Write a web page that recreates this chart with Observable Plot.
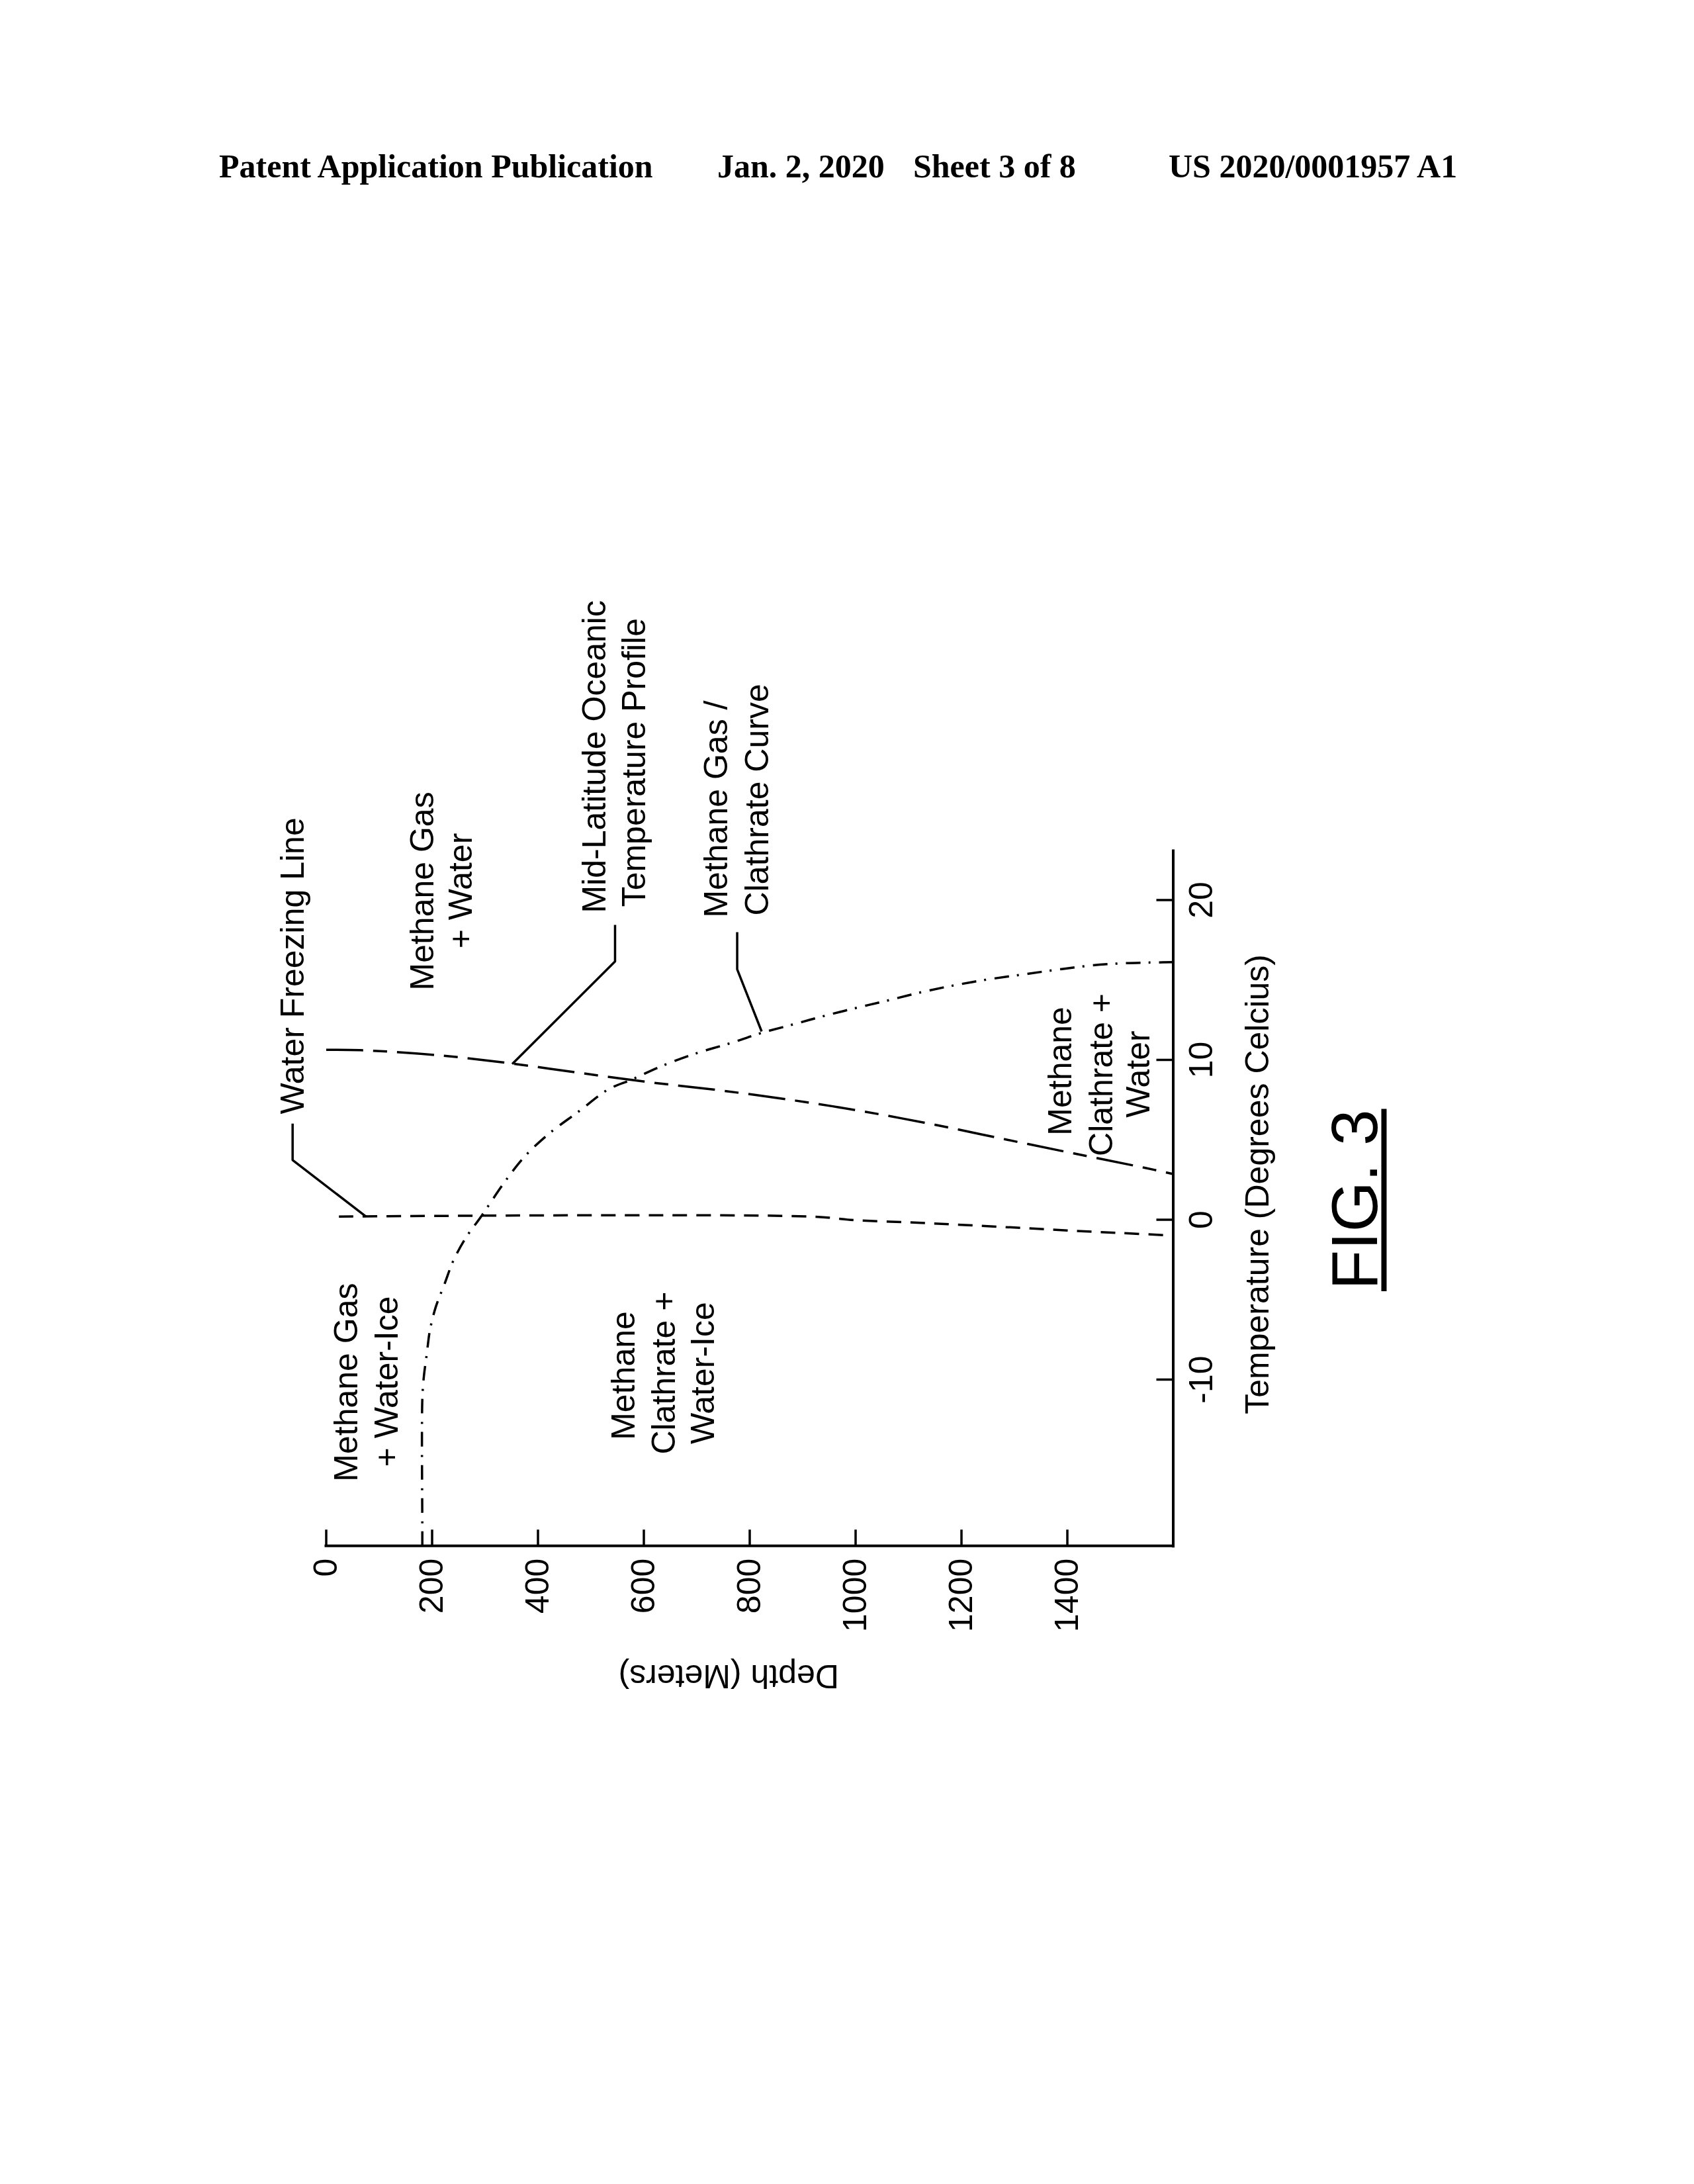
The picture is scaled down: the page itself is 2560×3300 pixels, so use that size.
<!DOCTYPE html>
<html>
<head>
<meta charset="utf-8">
<script src="https://cdn.jsdelivr.net/npm/d3@7"></script>
<script src="https://cdn.jsdelivr.net/npm/@observablehq/plot@0.6"></script>
<style>
  html, body { margin: 0; padding: 0; background: #ffffff; }
  body { width: 2560px; height: 3300px; position: relative; overflow: hidden; }
  #header { position: absolute; left: 0; top: 0; }
  #chart { position: absolute; left: 0; top: 0; width: 1800px; height: 1800px;
           transform-origin: 0 0; transform: translate(360px, 2640px) rotate(-90deg); }
  #chart svg { display: block; max-width: none; }
</style>
</head>
<body>
<svg id="header" width="2560" height="320" xmlns="http://www.w3.org/2000/svg"
     font-family="'Liberation Serif', 'Times New Roman', serif" font-weight="bold" font-size="50" fill="#000">
  <text x="331" y="268">Patent Application Publication</text>
  <text x="1084" y="268">Jan. 2, 2020</text>
  <text x="1380" y="268">Sheet 3 of 8</text>
  <text x="1766" y="268">US 2020/0001957 A1</text>
</svg>
<div id="chart"></div>
<script>
// ---------- data ----------
const tempTicks = [-10, 0, 10, 20];
const depthTicks = [0, 200, 400, 600, 800, 1000, 1200, 1400];

// Water freezing line (short dashes)
const freezeDepth = [24, 915, 1000, 1100, 1200, 1300, 1400, 1500, 1600];
const freezeTemp  = [0.2, 0.2, -0.03, -0.16, -0.32, -0.49, -0.67, -0.83, -0.99];

// Mid-latitude oceanic temperature profile (long dashes)
const profileDepth = [0, 64, 212, 349, 480, 614, 747, 885, 1016, 1150, 1281, 1412, 1546, 1600];
const profileTemp  = [10.63, 10.61, 10.29, 9.78, 9.18, 8.59, 8.08, 7.46, 6.77, 5.94, 5.04, 4.15, 3.25, 2.86];

// Methane gas / clathrate curve (dash-dot)
const clathDepth = [181.5, 181.5, 181.5, 184.4, 190.1, 195.9, 206.9, 223.6, 240.3, 264.3, 291.6, 342.9, 376.4, 421.0,
                    476.8, 532.6, 577.3, 627.5, 694.4, 770.5, 820.6, 882.1, 940.6, 1002.1, 1063.5, 1128.8, 1191.9,
                    1253.1, 1317.4, 1379.9, 1443.0, 1508.1, 1571.4, 1600];
const clathTemp  = [-20.4, -19.26, -11.27, -9.82, -8.36, -6.91, -5.46, -4.01, -2.55, -1.10, 0.16, 2.63, 4.01, 5.39,
                    6.77, 8.15, 8.77, 9.53, 10.36, 11.12, 11.67, 12.22, 12.75, 13.26, 13.74, 14.27, 14.70,
                    15.05, 15.35, 15.64, 15.90, 16.05, 16.10, 16.12];

// Region / curve labels (anchor points in data units)
const labelText  = ["Water Freezing Line", "Methane Gas", "+ Water", "Mid-Latitude Oceanic", "Temperature Profile",
                    "Methane Gas /", "Clathrate Curve", "Methane", "Clathrate +", "Water",
                    "Methane Gas", "+ Water-Ice", "Methane", "Clathrate +", "Water-Ice"];
const labelTemp  = [6.60, 20.56, 20.58, 19.19, 19.57, 18.90, 19.03, 9.30, 9.07, 9.11, -10.17, -10.12, -9.75, -9.59, -9.59];
const labelDepth = [-43.1, 203.1, 275.6, 528.1, 601.9, 757.3, 834.4, 1406.9, 1484.9, 1554.6, 58.5, 135.0, 582.4, 658.9, 733.1];
const labelAlign = ["start", "middle", "middle", "start", "start", "start", "start", "middle", "middle", "middle",
                    "middle", "middle", "middle", "middle", "middle"];

// Leader lines
const leaderSeries = ["freeze", "freeze", "freeze", "profile", "profile", "profile", "clath", "clath", "clath"];
const leaderTemp   = [6.01, 3.73, 0.2, 18.45, 16.16, 9.74, 17.99, 15.67, 11.78];
const leaderDepth  = [-63.5, -63.5, 75, 545.6, 545.6, 351.3, 776.3, 776.3, 822.5];

// Axis titles and figure label
const titleText   = ["Temperature (Degrees Celcius)", "Depth (Meters)"];
const titleTemp   = [2.22, -27.88];
const titleDepth  = [1780, 760.25];
const titleRotate = [0, -90];
const figText  = ["FIG. 3"];
const figTemp  = [1.26];
const figDepth = [1984.4];
const figUnderlineTemp  = [-4.45, 6.96];
const figUnderlineDepth = [1998.1];

// ---------- layout ----------
const W = 1800, H = 1800;
const xDomain = [-20.4, 23.1];
const yDomain = [0, 1600];
const mL = 303.8, mR = 445.6, mT = 132.5, mB = 387.5;
const pxPerT = (W - mL - mR) / (xDomain[1] - xDomain[0]);
const pxPerD = (H - mT - mB) / (yDomain[1] - yDomain[0]);
const tickLen = 25;
const font = "'Liberation Sans', Arial, Helvetica, sans-serif";

const idx = a => d3.range(a.length);
const curveStyle = {stroke: "black", strokeWidth: 3.5, strokeLinecap: "butt", strokeLinejoin: "round", curve: "catmull-rom"};

const chart = Plot.plot({
  width: W, height: H,
  marginLeft: mL, marginRight: mR, marginTop: mT, marginBottom: mB,
  x: {domain: xDomain},
  y: {domain: yDomain, reverse: true},
  style: {fontFamily: font, fontSize: "50px", background: "transparent", color: "black", overflow: "visible"},
  marks: [
    Plot.line(idx(freezeDepth), {x: i => freezeTemp[i], y: i => freezeDepth[i], ...curveStyle, strokeDasharray: "22,14"}),
    Plot.line(idx(profileDepth), {x: i => profileTemp[i], y: i => profileDepth[i], ...curveStyle, strokeDasharray: "56,15,21,15"}),
    Plot.line(idx(clathDepth), {x: i => clathTemp[i], y: i => clathDepth[i], ...curveStyle, strokeDasharray: "22,12,3,13"}),
    Plot.line(idx(leaderSeries), {x: i => leaderTemp[i], y: i => leaderDepth[i], z: i => leaderSeries[i],
      stroke: "black", strokeWidth: 3.5, curve: "linear", strokeLinejoin: "miter", strokeLinecap: "butt"}),
    // inward ticks
    Plot.ruleY(depthTicks, {y: d => d, x1: () => xDomain[0], x2: () => xDomain[0] + tickLen / pxPerT, stroke: "black", strokeWidth: 3.5}),
    Plot.ruleX(tempTicks, {x: t => t, y1: () => yDomain[1], y2: () => yDomain[1] - tickLen / pxPerD, stroke: "black", strokeWidth: 3.5}),
    // axis lines
    Plot.ruleX([xDomain[0]], {stroke: "black", strokeWidth: 4, strokeLinecap: "square"}),
    Plot.ruleY([yDomain[1]], {stroke: "black", strokeWidth: 4, strokeLinecap: "square"}),
    // tick labels
    Plot.axisY({ticks: depthTicks, anchor: "left", tickSize: 0, tickPadding: 19, tickFormat: d => String(d), label: null, fontSize: 50}),
    Plot.axisX({ticks: tempTicks, anchor: "bottom", tickSize: 0, tickPadding: 23, tickFormat: d => String(d), label: null, fontSize: 50}),
    // labels
    Plot.text(idx(labelText).filter(i => labelAlign[i] === "start"), {
      x: i => labelTemp[i], y: i => labelDepth[i], text: i => labelText[i],
      textAnchor: "start", lineAnchor: "bottom", fontSize: 50, fill: "black"}),
    Plot.text(idx(labelText).filter(i => labelAlign[i] === "middle"), {
      x: i => labelTemp[i], y: i => labelDepth[i], text: i => labelText[i],
      textAnchor: "middle", lineAnchor: "bottom", fontSize: 50, fill: "black"}),
    Plot.text(idx(titleText), {
      x: i => titleTemp[i], y: i => titleDepth[i], text: i => titleText[i], rotate: i => titleRotate[i],
      textAnchor: "middle", lineAnchor: "bottom", fontSize: 50, fill: "black"}),
    Plot.text(idx(figText), {
      x: i => figTemp[i], y: i => figDepth[i], text: i => figText[i],
      textAnchor: "middle", lineAnchor: "bottom", fontSize: 98, fill: "black"}),
    Plot.ruleY(figUnderlineDepth, {y: d => d, x1: () => figUnderlineTemp[0], x2: () => figUnderlineTemp[1],
      stroke: "black", strokeWidth: 8, strokeLinecap: "butt"})
  ]
});
document.getElementById("chart").appendChild(chart);
</script>
</body>
</html>
